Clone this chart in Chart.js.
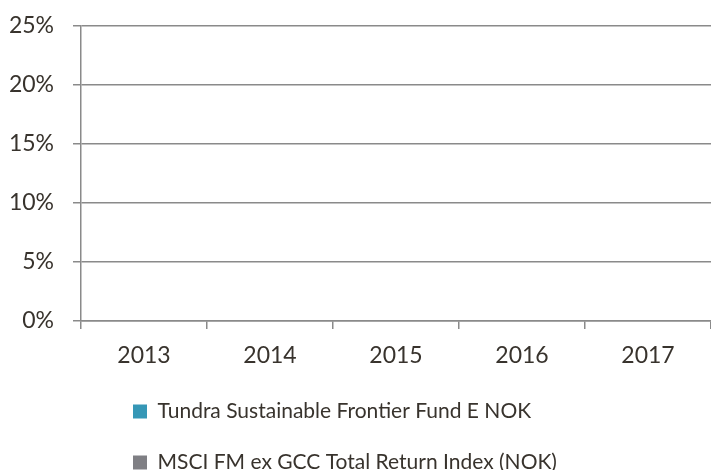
<!DOCTYPE html>
<html>
<head>
<meta charset="utf-8">
<script src="https://cdn.jsdelivr.net/npm/chart.js@4/dist/chart.umd.min.js"></script>
<style>
    body { margin: 0; background: #fff; }
    #wrap { width: 711px; height: 470px; position: relative; }
</style>
</head>
<body>
<div id="wrap"><canvas id="chart"></canvas></div>
<script>
// Years on the x axis
const years = ['2013', '2014', '2015', '2016', '2017'];
// No bars are drawn in the picture, so both series are empty
const fundReturns = [null, null, null, null, null];
const indexReturns = [null, null, null, null, null];
const seriesNames = ['Tundra Sustainable Frontier Fund E NOK', 'MSCI FM ex GCC Total Return Index (NOK)'];
const yTicks = [0, 5, 10, 15, 20, 25];

const textColor = '#38332d';
const gridColor = '#8a8a8a';

Chart.defaults.font.family = 'Lato, "Open Sans", sans-serif';
Chart.defaults.font.size = 23;
Chart.defaults.color = textColor;

// Legend rows start at the same left edge, a bit right of the canvas edge
const legendIndent = {
    id: 'legendIndent',
    afterLayout(chart) {
        chart.legend.left = 103;
    }
};

const ctx = document.getElementById('chart').getContext('2d');
new Chart(ctx, {
    type: 'bar',
    data: {
        labels: years,
        datasets: [
            {
                label: seriesNames[0],
                data: fundReturns,
                backgroundColor: '#3597b6'
            },
            {
                label: seriesNames[1],
                data: indexReturns,
                backgroundColor: '#7f7f84'
            }
        ]
    },
    options: {
        responsive: true,
        maintainAspectRatio: false,
        animation: false,
        layout: {
            padding: { top: 26, right: 0, bottom: -13, left: 0 }
        },
        plugins: {
            legend: {
                position: 'bottom',
                align: 'start',
                labels: {
                    boxWidth: 14,
                    boxHeight: 14,
                    padding: 30,
                    font: { size: 21 }
                }
            },
            tooltip: { enabled: false }
        },
        scales: {
            x: {
                offset: true,
                grid: {
                    offset: true,
                    drawOnChartArea: false,
                    drawTicks: true,
                    tickLength: 8,
                    color: gridColor,
                    lineWidth: 1.5
                },
                border: { color: gridColor, width: 1.5 },
                ticks: { padding: 24, font: { size: 23, lineHeight: 0.2 } },
                afterFit: scale => { scale.height = 50; }
            },
            y: {
                min: yTicks[0],
                max: yTicks[yTicks.length - 1],
                afterBuildTicks: axis => {
                    axis.ticks = yTicks.map(v => ({ value: v }));
                },
                grid: {
                    color: gridColor,
                    lineWidth: 1.5,
                    drawTicks: true,
                    tickLength: 8
                },
                border: { color: gridColor, width: 1.5 },
                ticks: {
                    padding: 19,
                    font: { size: 23, lineHeight: 0.2 },
                    callback: v => v + '%'
                },
                afterFit: scale => { scale.width = 81; }
            }
        }
    },
    plugins: [legendIndent]
});
</script>
</body>
</html>
